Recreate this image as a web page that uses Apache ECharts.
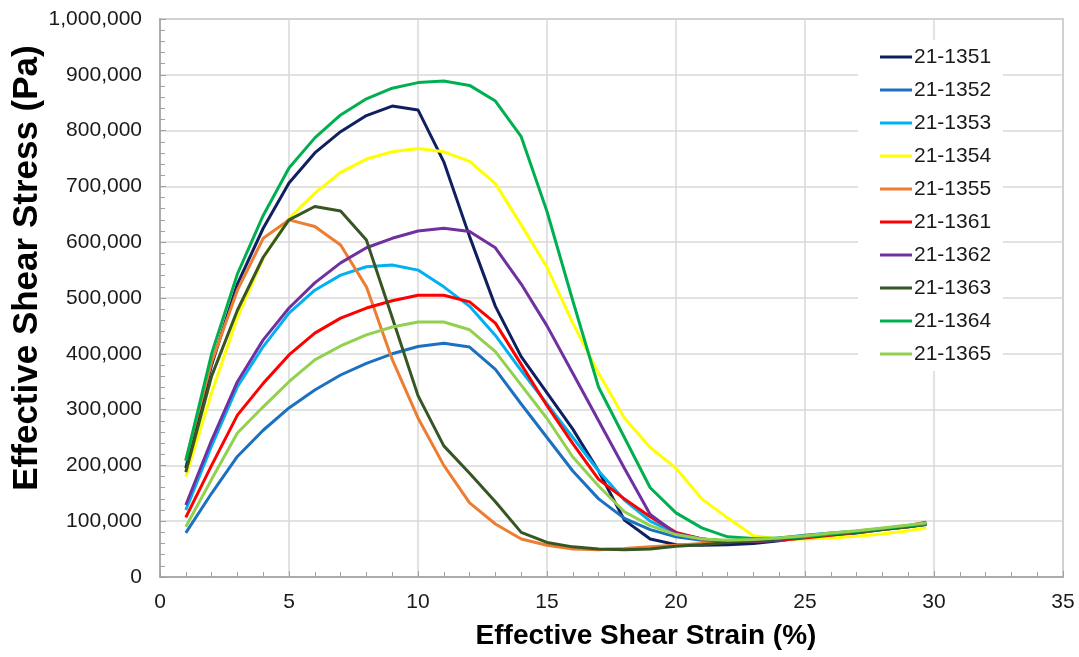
<!DOCTYPE html>
<html>
<head>
<meta charset="utf-8">
<title>Effective Shear Stress vs Strain</title>
<script src="https://cdn.jsdelivr.net/npm/echarts@6/dist/echarts.min.js"></script>
<style>
  html, body { margin: 0; padding: 0; background: #fff; }
  #chart { width: 1079px; height: 657px; }
</style>
</head>
<body>
<div id="chart"></div>
<script>
// strain (%) shared by all samples
var strain = [1,2,3,4,5,6,7,8,9,10,11,12,13,14,15,16,17,18,19,20,21,22,23,24,25,26,27,28,29,29.7];

// sample names
var sampleNames = ['21-1351','21-1352','21-1353','21-1354','21-1355','21-1361','21-1362','21-1363','21-1364','21-1365'];

// stress (Pa)
var s1351 = [195000,380000,525000,625000,706000,760000,798000,827000,844000,837000,744000,610000,485000,395000,330000,265000,190000,102000,68000,58000,57000,58000,60000,65000,71000,75000,79000,85000,90000,95000];
var s1352 = [79000,150000,216000,263000,303000,335000,362000,383000,400000,413000,419000,412000,372000,310000,250000,190000,140000,105000,85000,72000,66000,64000,65000,70000,75000,79000,82000,86000,90000,94000];
var s1353 = [120000,235000,341000,413000,473000,514000,541000,556000,559000,550000,520000,485000,433000,370000,310000,250000,190000,138000,100000,78000,68000,64000,64000,66000,70000,75000,80000,85000,90000,95000];
var s1354 = [180000,330000,465000,572000,643000,688000,725000,749000,762000,768000,762000,745000,705000,631000,555000,455000,365000,285000,232000,195000,140000,106000,74000,68000,68000,70000,73000,77000,83000,88000];
var s1355 = [210000,385000,514000,607000,640000,628000,595000,520000,390000,285000,200000,133000,95000,68000,57000,50000,49000,51000,54000,57000,60000,63000,66000,69000,72000,76000,80000,85000,90000,95000];
var s1361 = [107000,200000,290000,347000,398000,437000,464000,482000,495000,505000,505000,493000,455000,381000,307000,239000,175000,140000,108000,80000,68000,64000,64000,66000,70000,75000,80000,86000,92000,98000];
var s1362 = [129000,245000,350000,425000,482000,527000,563000,590000,607000,620000,625000,619000,590000,525000,450000,365000,280000,195000,112000,78000,68000,64000,64000,67000,72000,77000,81000,86000,91000,95000];
var s1363 = [188000,360000,478000,573000,640000,664000,656000,604000,465000,325000,235000,186000,135000,80000,62000,54000,50000,49000,50000,55000,58000,62000,65000,68000,72000,76000,80000,85000,90000,94000];
var s1364 = [208000,400000,543000,648000,733000,787000,828000,857000,876000,886000,889000,881000,853000,789000,655000,495000,340000,250000,160000,115000,88000,72000,69000,70000,72000,77000,82000,87000,92000,95000];
var s1365 = [90000,175000,258000,305000,350000,389000,414000,434000,448000,457000,457000,443000,404000,344000,284000,215000,163000,117000,92000,76000,68000,66000,67000,70000,74000,79000,83000,88000,93000,97000];

var stressData = [s1351,s1352,s1353,s1354,s1355,s1361,s1362,s1363,s1364,s1365];
var colors = ['#0F1F5F','#1C70C0','#00B0F0','#FFFF00','#ED7D31','#FF0000','#7030A0','#375623','#00B050','#92D050'];

var FONT = 'Liberation Sans, Arial, sans-serif';

var chart = echarts.init(document.getElementById('chart'));

// 把每条曲线配成 [strain, stress]
function buildSeries() {
    var list = [];
    for (var i = 0; i < sampleNames.length; i++) {
        var pts = [];
        for (var k = 0; k < strain.length; k++) {
            pts.push([strain[k], stressData[i][k]]);
        }
        list.push({
            name: sampleNames[i],
            type: 'line',
            data: pts,
            showSymbol: false,
            symbol: 'none',
            smooth: false,
            lineStyle: { width: 3, color: colors[i] },
            itemStyle: { color: colors[i] },
            animation: false
        });
    }
    return list;
}

var option = {
    backgroundColor: '#fff',
    animation: false,
    grid: {
        left: 160, right: 16, top: 19, bottom: 80,
        show: true,
        borderColor: '#A6A6A6',
        borderWidth: 1.5,
        backgroundColor: '#fff'
    },
    legend: {
        orient: 'vertical',
        left: 858,
        top: 40,
        padding: [6, 12, 6, 22],
        backgroundColor: '#fff',
        itemWidth: 32,
        itemHeight: 3,
        itemGap: 11,
        icon: 'rect',
        data: sampleNames,
        textStyle: { fontFamily: FONT, fontSize: 21, color: '#1a1a1a', lineHeight: 22, padding: [0, 0, 0, -3] }
    },
    xAxis: {
        type: 'value',
        min: 0, max: 35, interval: 5,
        axisLine: { show: true, lineStyle: { color: '#A0A0A0', width: 1.5 } },
        axisTick: { show: true, inside: true, length: 6, lineStyle: { color: '#A0A0A0' } },
        minorTick: { show: true, splitNumber: 5, length: 5, lineStyle: { color: '#A0A0A0' } },
        splitLine: { show: true, lineStyle: { color: '#D9D9D9', width: 1.5 } },
        axisLabel: { fontFamily: FONT, fontSize: 21, color: '#1a1a1a', margin: 15 }
    },
    yAxis: {
        type: 'value',
        min: 0, max: 1000000, interval: 100000,
        axisLine: { show: true, lineStyle: { color: '#A0A0A0', width: 1.5 } },
        axisTick: { show: true, inside: true, length: 6, lineStyle: { color: '#A0A0A0' } },
        minorTick: { show: true, splitNumber: 5, length: 5, lineStyle: { color: '#A0A0A0' } },
        splitLine: { show: true, lineStyle: { color: '#D9D9D9', width: 1.5 } },
        axisLabel: {
            fontFamily: FONT, fontSize: 21, color: '#1a1a1a', margin: 18,
            formatter: function (v) { return v.toLocaleString('en-US'); }
        }
    },
    graphic: [
        {
            type: 'text',
            x: 27, y: 268,
            rotation: Math.PI / 2,
            style: {
                text: 'Effective Shear Stress (Pa)',
                font: 'bold 35px ' + FONT,
                fill: '#000',
                align: 'center',
                verticalAlign: 'middle'
            }
        },
        {
            type: 'text',
            x: 646, y: 636,
            style: {
                text: 'Effective Shear Strain (%)',
                font: 'bold 28px ' + FONT,
                fill: '#000',
                align: 'center',
                verticalAlign: 'middle'
            }
        }
    ],
    series: buildSeries()
};

chart.setOption(option);
</script>
</body>
</html>
